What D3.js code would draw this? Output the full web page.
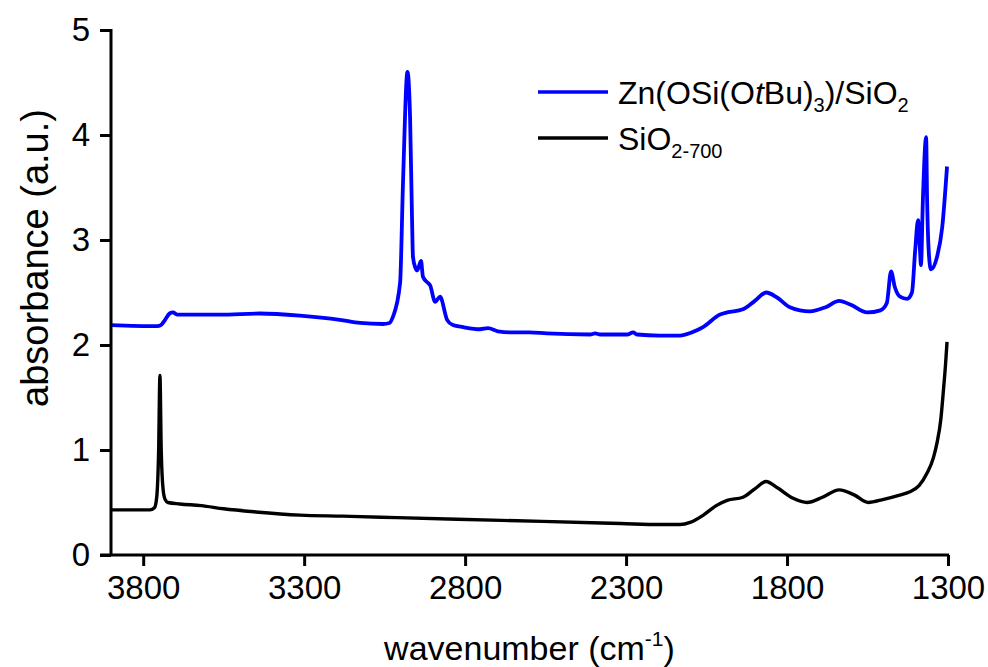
<!DOCTYPE html>
<html>
<head>
<meta charset="utf-8">
<script src="https://cdn.jsdelivr.net/npm/d3@7"></script>
<style>
  body { margin: 0; background: #fff; }
  text { font-family: "Liberation Sans", Arial, sans-serif; fill: #000; }
</style>
</head>
<body>
<svg id="chart" width="988" height="667"></svg>
<script>
// wavenumber (cm-1) / absorbance
const blueWn = [3900, 3757, 3745, 3732, 3718, 3707, 3695, 3686, 3560, 3437, 3313, 3189, 3126, 3055, 3035, 3024,
  3002, 2993, 2979, 2971, 2965, 2962, 2955, 2949, 2937, 2931, 2915, 2909, 2893, 2878, 2856, 2838, 2806,
  2754, 2729, 2698, 2660, 2600, 2546, 2412, 2396, 2380, 2297, 2278, 2266, 2195, 2132, 2080, 2061, 2008,
  1986, 1937, 1900, 1865, 1830, 1791, 1729, 1680, 1638, 1600, 1551, 1510, 1490, 1477, 1465, 1449, 1427,
  1412, 1402, 1393, 1387, 1384, 1378, 1368, 1365, 1359, 1353, 1334, 1318, 1303];
const blueAbs = [2.19, 2.18, 2.19, 2.24, 2.30, 2.31, 2.29, 2.29, 2.29, 2.30, 2.28, 2.24, 2.21, 2.20, 2.21, 2.27,
  2.59, 3.54, 4.60, 4.17, 3.22, 2.84, 2.74, 2.71, 2.80, 2.65, 2.59, 2.57, 2.41, 2.46, 2.24, 2.19, 2.17,
  2.15, 2.16, 2.13, 2.12, 2.12, 2.11, 2.10, 2.11, 2.10, 2.10, 2.12, 2.10, 2.09, 2.09, 2.14, 2.17, 2.29,
  2.31, 2.34, 2.42, 2.50, 2.45, 2.36, 2.32, 2.36, 2.42, 2.38, 2.31, 2.33, 2.40, 2.70, 2.55, 2.46, 2.44,
  2.50, 2.90, 3.19, 2.90, 2.76, 3.38, 3.98, 3.40, 2.85, 2.72, 2.84, 3.12, 3.70];

const blackWn = [3900, 3779, 3765, 3758, 3752, 3748, 3744, 3738, 3732, 3723, 3686, 3620, 3550, 3450, 3313,
  3180, 3060, 2825, 2560, 2316, 2195, 2132, 2101, 2060, 2020, 1986, 1937, 1900, 1865, 1830, 1781, 1738,
  1690, 1638, 1590, 1548, 1500, 1450, 1420, 1390, 1365, 1345, 1334, 1322, 1315, 1308, 1303];
const blackAbs = [0.43, 0.43, 0.45, 0.55, 1.00, 1.71, 1.00, 0.62, 0.53, 0.50, 0.486, 0.47, 0.44, 0.41, 0.38,
  0.37, 0.36, 0.34, 0.32, 0.30, 0.29, 0.29, 0.31, 0.38, 0.47, 0.52, 0.55, 0.63, 0.70, 0.64, 0.54, 0.50,
  0.55, 0.62, 0.57, 0.50, 0.53, 0.57, 0.60, 0.66, 0.78, 0.93, 1.07, 1.30, 1.54, 1.80, 2.03];

const xTicks = [3800, 3300, 2800, 2300, 1800, 1300];
const yTicks = [0, 1, 2, 3, 4, 5];

const svg = d3.select("#chart");
const x = d3.scaleLinear().domain([3900, 1300]).range([111, 948]);
const y = d3.scaleLinear().domain([0, 5]).range([555, 30]);

const line = d3.line()
    .x(d => x(d[0]))
    .y(d => y(d[1]))
    .curve(d3.curveMonotoneX);

// curves
svg.append("path")
    .datum(d3.zip(blackWn, blackAbs).reverse())
    .attr("fill", "none")
    .attr("stroke", "#000")
    .attr("stroke-width", 3.4)
    .attr("d", line);
svg.append("path")
    .datum(d3.zip(blueWn, blueAbs).reverse())
    .attr("fill", "none")
    .attr("stroke", "#0000ff")
    .attr("stroke-width", 3.8)
    .attr("d", line);

// axes
const xAxis = svg.append("g")
    .attr("transform", `translate(0,${y(0)})`)
    .call(d3.axisBottom(x).tickValues(xTicks).tickFormat(d3.format("d"))
        .tickSize(11).tickPadding(10).tickSizeOuter(0));
const yAxis = svg.append("g")
    .attr("transform", `translate(${x(3900)},0)`)
    .call(d3.axisLeft(y).tickValues(yTicks).tickFormat(d3.format("d"))
        .tickSize(11).tickPadding(10).tickSizeOuter(0));
[xAxis, yAxis].forEach(g => {
    g.select(".domain").attr("stroke-width", 3);
    g.selectAll(".tick line").attr("stroke-width", 3);
    g.selectAll(".tick text").attr("font-size", 33).attr("font-family", null);
});
xAxis.select(".domain").attr("d", `M${x(3900) - 11},0H${x(1300) + 1}`);
yAxis.select(".domain").attr("d", `M0,${y(0) + 1}V${y(5) - 1}`);

// axis titles
const xt = svg.append("text")
    .attr("x", (x(3900) + x(1300)) / 2)
    .attr("y", 660)
    .attr("text-anchor", "middle")
    .attr("font-size", 34);
xt.append("tspan").text("wavenumber (cm");
xt.append("tspan").attr("font-size", 21).attr("dy", -14).text("-1");
xt.append("tspan").attr("dy", 14).text(")");

svg.append("text")
    .attr("transform", "translate(48,258) rotate(-90)")
    .attr("text-anchor", "middle")
    .attr("font-size", 38)
    .text("absorbance (a.u.)");

// legend
const legend = svg.append("g");
const entries = [
    { color: "#0000ff", y: 92, w: 3.6 },
    { color: "#000", y: 138, w: 3.4 }
];
legend.selectAll("line")
    .data(entries)
    .enter().append("line")
        .attr("x1", 538).attr("x2", 608)
        .attr("y1", d => d.y).attr("y2", d => d.y)
        .attr("stroke", d => d.color)
        .attr("stroke-width", d => d.w);

const t1 = legend.append("text").attr("x", 618).attr("y", 104).attr("font-size", 32);
t1.append("tspan").text("Zn(OSi(O");
t1.append("tspan").attr("font-style", "italic").text("t");
t1.append("tspan").text("Bu)");
t1.append("tspan").attr("font-size", 20).attr("dy", 8).text("3");
t1.append("tspan").attr("dy", -8).text(")/SiO");
t1.append("tspan").attr("font-size", 20).attr("dy", 8).text("2");

const t2 = legend.append("text").attr("x", 618).attr("y", 150).attr("font-size", 32);
t2.append("tspan").text("SiO");
t2.append("tspan").attr("font-size", 20).attr("dy", 8).text("2-700");
</script>
</body>
</html>
